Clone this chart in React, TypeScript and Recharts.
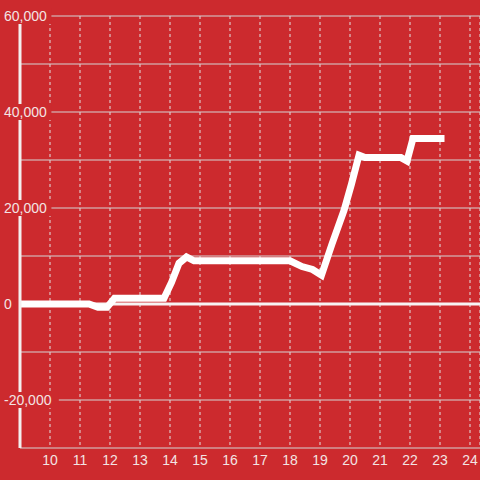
import React from 'react';
import { LineChart, Line, XAxis, YAxis, CartesianGrid, ReferenceLine } from 'recharts';

const hours = [9, 11.3, 11.6, 11.9, 12.15, 13.8, 14.05, 14.3, 14.55, 14.8, 18.0, 18.4, 18.75, 19.05, 19.4, 19.8, 20.05, 20.3, 20.5, 21.7, 21.9, 22.1, 23.15];
const values = [0, 0, -700, -700, 1200, 1200, 4500, 8500, 9800, 9000, 9000, 7800, 7200, 6000, 12500, 19500, 25000, 31000, 30500, 30500, 29800, 34500, 34500];
const xTicks = [10, 11, 12, 13, 14, 15, 16, 17, 18, 19, 20, 21, 22, 23, 24];
const yTicks = [-30000, -20000, -10000, 0, 10000, 20000, 30000, 40000, 50000, 60000];
const yLabelled = [-20000, 0, 20000, 40000, 60000];

const data = hours.map((h, i) => ({ h, v: values[i] }));

const BG = '#cc2a2e';
const TXT = '#f3e4e4';

const YTick = (props: any) => {
  const { y, payload } = props;
  const val = payload.value as number;
  if (!yLabelled.includes(val)) return null;
  const label = val.toLocaleString('en-US');
  const w = label.length * 7.4 + 4;
  return (
    <g>
      <rect x={0} y={y - 8} width={w + 3} height={16} fill={BG} />
      <text x={4} y={y} dy={5} fill={TXT} fontSize={14} fontFamily="Liberation Sans, Arial, sans-serif" textAnchor="start">
        {label}
      </text>
    </g>
  );
};

export default function App() {
  return (
    <div style={{ position: 'absolute', left: 0, top: 0, width: 480, height: 480, background: BG }}>
      <LineChart width={480} height={480} data={data} margin={{ top: 16, right: 0, bottom: 0, left: 0 }}>
        <CartesianGrid horizontal={false} vertical={true} stroke="#e2e2e2" strokeDasharray="3 3" />
        <CartesianGrid horizontal={true} vertical={false} stroke="#d4d4d4" />
        <XAxis
          dataKey="h"
          type="number"
          domain={[9, 24.3333]}
          ticks={xTicks}
          allowDataOverflow
          axisLine={false}
          tickLine={false}
          tickSize={5}
          tickMargin={2}
          height={32}
          tick={{ fill: TXT, fontSize: 14, fontFamily: 'Liberation Sans, Arial, sans-serif' }}
        />
        <YAxis
          type="number"
          domain={[-30000, 60000]}
          ticks={yTicks}
          width={20}
          axisLine={{ stroke: '#f3efef', strokeWidth: 3 }}
          tickLine={false}
          tick={<YTick />}
          interval={0}
        />
        <ReferenceLine y={0} stroke="#f7f3f3" strokeWidth={3} />
        <Line
          type="linear"
          dataKey="v"
          stroke="#ffffff"
          strokeWidth={7}
          dot={false}
          isAnimationActive={false}
        />
      </LineChart>
    </div>
  );
}
